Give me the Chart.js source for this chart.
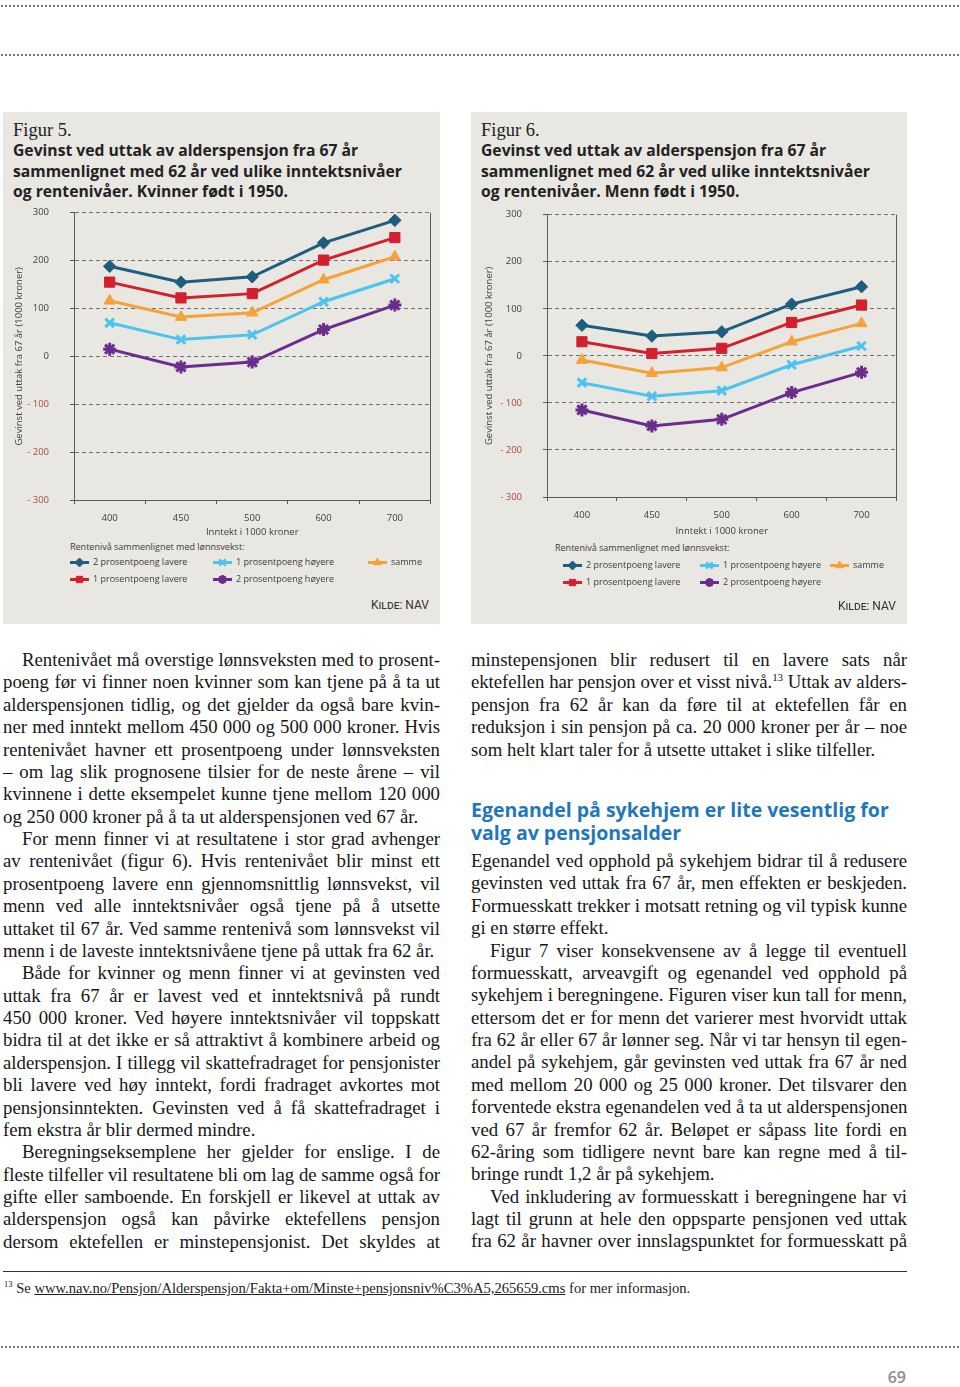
<!DOCTYPE html>
<html><head><meta charset="utf-8">
<script src="https://cdn.jsdelivr.net/npm/chart.js"></script>
<style>
body{margin:0;width:960px;height:1387px;position:relative;background:#fff;overflow:hidden;font-family:'Liberation Serif','Times New Roman',serif;color:#161616;}
.dots{position:absolute;left:0;width:960px;height:2px;background-image:radial-gradient(circle,#777 0.8px,transparent 1px);background-size:4px 2px;}
.panel{position:absolute;top:112px;height:512px;background:#e8e7e2;}
.fig{position:absolute;font-size:18.5px;line-height:20px;color:#222;}
.ftitle{position:absolute;font-family:'Open Sans',sans-serif;font-weight:700;font-size:15.7px;line-height:20.6px;color:#222;white-space:nowrap;}
canvas.ch{position:absolute;}
.leg{position:absolute;font-family:'Open Sans',sans-serif;font-size:9px;color:#3d3d3d;}
.legtitle{line-height:12px;white-space:nowrap;}
.legrow{position:absolute;white-space:nowrap;line-height:12px;display:flex;align-items:center;}
.legrow canvas{margin-right:4px;}
.kilde{position:absolute;font-family:'Roboto',sans-serif;font-variant:small-caps;font-size:12px;color:#333;white-space:nowrap;}
.col{position:absolute;font-size:18.8px;line-height:22.38px;}
.col div{text-align:justify;text-align-last:justify;white-space:nowrap;}
.col div.l{text-align-last:left;}
.col div.i{text-indent:19px;}
.head{position:absolute;left:471px;top:798px;font-family:'Open Sans',sans-serif;font-weight:700;font-size:19.5px;line-height:23px;color:#1f77bb;white-space:nowrap;}
sup{font-size:11px;line-height:0;vertical-align:7px;}
</style></head>
<body>
<div class="dots" style="top:5px"></div>
<div class="dots" style="top:54px"></div>

<div class="panel" style="left:3px;width:437px"></div>
<div class="panel" style="left:471px;width:436px"></div>

<div class="fig" style="left:13px;top:120px">Figur 5.</div>
<div class="ftitle" style="left:13px;top:140px">Gevinst ved uttak av alderspensjon fra 67 år<br>sammenlignet med 62 år ved ulike inntektsnivåer<br>og rentenivåer. Kvinner født i 1950.</div>
<div class="fig" style="left:481px;top:120px">Figur 6.</div>
<div class="ftitle" style="left:481px;top:140px">Gevinst ved uttak av alderspensjon fra 67 år<br>sammenlignet med 62 år ved ulike inntektsnivåer<br>og rentenivåer. Menn født i 1950.</div>

<canvas class="ch" id="c5" width="440" height="335" style="left:0px;top:205px;width:440px;height:335px"></canvas>
<canvas class="ch" id="c6" width="434" height="335" style="left:473px;top:205px;width:434px;height:335px"></canvas>

<div class="leg" id="leg5" style="left:70px;top:541px;width:370px;height:50px"></div>
<div class="leg" id="leg6" style="left:555px;top:542px;width:350px;height:50px"></div>

<div class="kilde" style="right:531px;top:598px">Kilde: NAV</div>
<div class="kilde" style="right:64px;top:599px">Kilde: NAV</div>

<div class="col" style="left:3px;top:649px;width:437px">
<div class="i">Rentenivået må overstige lønnsveksten med to prosent-</div>
<div>poeng før vi finner noen kvinner som kan tjene på å ta ut</div>
<div>alderspensjonen tidlig, og det gjelder da også bare kvin-</div>
<div>ner med inntekt mellom 450 000 og 500 000 kroner. Hvis</div>
<div>rentenivået havner ett prosentpoeng under lønnsveksten</div>
<div>– om lag slik prognosene tilsier for de neste årene – vil</div>
<div>kvinnene i dette eksempelet kunne tjene mellom 120 000</div>
<div class="l">og 250 000 kroner på å ta ut alderspensjonen ved 67 år.</div>
<div class="i">For menn finner vi at resultatene i stor grad avhenger</div>
<div>av rentenivået (figur 6). Hvis rentenivået blir minst ett</div>
<div>prosentpoeng lavere enn gjennomsnittlig lønnsvekst, vil</div>
<div>menn ved alle inntektsnivåer også tjene på å utsette</div>
<div>uttaket til 67 år. Ved samme rentenivå som lønnsvekst vil</div>
<div class="l">menn i de laveste inntektsnivåene tjene på uttak fra 62 år.</div>
<div class="i">Både for kvinner og menn finner vi at gevinsten ved</div>
<div>uttak fra 67 år er lavest ved et inntektsnivå på rundt</div>
<div>450 000 kroner. Ved høyere inntektsnivåer vil toppskatt</div>
<div>bidra til at det ikke er så attraktivt å kombinere arbeid og</div>
<div>alderspensjon. I tillegg vil skattefradraget for pensjonister</div>
<div>bli lavere ved høy inntekt, fordi fradraget avkortes mot</div>
<div>pensjonsinntekten. Gevinsten ved å få skattefradraget i</div>
<div class="l">fem ekstra år blir dermed mindre.</div>
<div class="i">Beregningseksemplene her gjelder for enslige. I de</div>
<div>fleste tilfeller vil resultatene bli om lag de samme også for</div>
<div>gifte eller samboende. En forskjell er likevel at uttak av</div>
<div>alderspensjon også kan påvirke ektefellens pensjon</div>
<div>dersom ektefellen er minstepensjonist. Det skyldes at</div>
</div>

<div class="col" style="left:471px;top:649px;width:436px">
<div>minstepensjonen blir redusert til en lavere sats når</div>
<div>ektefellen har pensjon over et visst nivå.<sup>13</sup> Uttak av alders-</div>
<div>pensjon fra 62 år kan da føre til at ektefellen får en</div>
<div>reduksjon i sin pensjon på ca. 20 000 kroner per år – noe</div>
<div class="l">som helt klart taler for å utsette uttaket i slike tilfeller.</div>
</div>
<div class="head">Egenandel på sykehjem er lite vesentlig for<br>valg av pensjonsalder</div>
<div class="col" style="left:471px;top:850px;width:436px">
<div>Egenandel ved opphold på sykehjem bidrar til å redusere</div>
<div>gevinsten ved uttak fra 67 år, men effekten er beskjeden.</div>
<div>Formuesskatt trekker i motsatt retning og vil typisk kunne</div>
<div class="l">gi en større effekt.</div>
<div class="i">Figur 7 viser konsekvensene av å legge til eventuell</div>
<div>formuesskatt, arveavgift og egenandel ved opphold på</div>
<div>sykehjem i beregningene. Figuren viser kun tall for menn,</div>
<div>ettersom det er for menn det varierer mest hvorvidt uttak</div>
<div>fra 62 år eller 67 år lønner seg. Når vi tar hensyn til egen-</div>
<div>andel på sykehjem, går gevinsten ved uttak fra 67 år ned</div>
<div>med mellom 20 000 og 25 000 kroner. Det tilsvarer den</div>
<div>forventede ekstra egenandelen ved å ta ut alderspensjonen</div>
<div>ved 67 år fremfor 62 år. Beløpet er såpass lite fordi en</div>
<div>62-åring som tidligere nevnt bare kan regne med å til-</div>
<div class="l">bringe rundt 1,2 år på sykehjem.</div>
<div class="i">Ved inkludering av formuesskatt i beregningene har vi</div>
<div>lagt til grunn at hele den oppsparte pensjonen ved uttak</div>
<div>fra 62 år havner over innslagspunktet for formuesskatt på</div>
</div>

<div style="position:absolute;left:3px;top:1271px;width:904px;height:1px;background:#333"></div>
<div style="position:absolute;left:4px;top:1279px;font-size:14.6px;line-height:18px;white-space:nowrap;color:#222"><sup style="font-size:8.5px;vertical-align:6px">13</sup> Se <span style="text-decoration:underline">www.nav.no/Pensjon/Alderspensjon/Fakta+om/Minste+pensjonsniv%C3%A5,265659.cms</span> for mer informasjon.</div>
<div class="dots" style="top:1346px"></div>
<div style="position:absolute;right:54px;top:1367px;font-family:'Open Sans',sans-serif;font-weight:600;font-size:16px;line-height:20px;color:#8c8c8c">69</div>

<script>
const categories = ['400','450','500','600','700'];
const seriesNames = ['2 prosentpoeng lavere','1 prosentpoeng lavere','samme','1 prosentpoeng høyere','2 prosentpoeng høyere'];
const yMin = -300, yMax = 300, yStep = 100;

// Figur 5 – kvinner
const women2Lower  = [188, 155, 166, 237, 284];
const women1Lower  = [155, 122, 131, 201, 248];
const womenSame    = [116,  82,  91, 160, 208];
const women1Higher = [ 70,  35,  45, 114, 162];
const women2Higher = [ 15, -22, -12,  56, 107];

// Figur 6 – menn
const men2Lower  = [  65,   42,   51,  110, 147];
const men1Lower  = [  30,    5,   16,   71, 108];
const menSame    = [  -9,  -37,  -25,   30,  69];
const men1Higher = [ -57,  -86,  -74,  -19,  21];
const men2Higher = [-115, -149, -135,  -78, -35];

const colors = ['#1e5d7d','#d3202c','#f5a23a','#4cc4ef','#6a2d8e'];
const styles = ['rectRot','rect','triangle','crossRot','star'];
const radii  = [6.2, 7.2, 6.5, 6, 6.5];
const legendOrder = [0,3,2,1,4];

const FONT = "'Open Sans', sans-serif";
const TXT = '#3d3d3d', NEG = '#b0463b', AX = '#5a5a5a';

function makeDatasets(arrs){
  return arrs.map((d,i)=>({
    label: seriesNames[i], data: d,
    borderColor: colors[i], backgroundColor: colors[i],
    pointBackgroundColor: colors[i], pointBorderColor: colors[i],
    pointStyle: styles[i], pointRadius: radii[i], pointHoverRadius: radii[i],
    pointBorderWidth: (styles[i]==='crossRot'||styles[i]==='star') ? 3 : 1,
    borderWidth: 3, tension: 0, fill: false
  }));
}

const rightFrame = {
  id:'rightFrame',
  afterDraw(chart){
    const {ctx, chartArea:a} = chart;
    const x = Math.round(a.right) - 0.5;
    ctx.save(); ctx.strokeStyle = AX; ctx.lineWidth = 1;
    ctx.beginPath(); ctx.moveTo(x, a.top); ctx.lineTo(x, a.bottom); ctx.stroke();
    ctx.restore();
  }
};

function makeChart(id, arrs, g){
  return new Chart(document.getElementById(id), {
    type:'line',
    data:{ labels: categories, datasets: makeDatasets(arrs) },
    plugins:[rightFrame],
    options:{
      responsive:false, maintainAspectRatio:false, animation:false,
      layout:{ padding:{left:0,right:6,top:8,bottom:0} },
      plugins:{ legend:{display:false}, tooltip:{enabled:false} },
      scales:{
        x:{
          type:'category', offset:true,
          afterFit(s){ s.height = 40; },
          grid:{ display:true, drawOnChartArea:false, drawTicks:true, tickLength:4, color:AX, offset:true },
          border:{ display:true, color:AX, width:1 },
          ticks:{ color:TXT, font:{family:FONT, size:9.5}, padding:9, maxRotation:0 },
          title:{ display:true, text:'Inntekt i 1000 kroner', color:TXT, font:{family:FONT, size:9.5}, padding:{top:0,bottom:g.xTitlePad} }
        },
        y:{
          min:yMin, max:yMax,
          afterFit(s){ s.width = 74; },
          grid:{ color:'#707070', lineWidth:1, tickLength:4, tickColor:AX },
          border:{ display:true, color:AX, width:1, dash:[4,3] },
          ticks:{
            stepSize:yStep, padding:21, font:{family:FONT, size:9.5},
            color:(c)=> c.tick && c.tick.value < 0 ? NEG : TXT,
            callback:(v)=> v < 0 ? '- ' + Math.abs(v) : String(v)
          },
          title:{ display:true, text:'Gevinst ved uttak fra 67 år (1000 kroner)', color:TXT, font:{family:FONT, size:9.5}, padding:{top:g.yTitlePad,bottom:0} }
        }
      }
    }
  });
}

// place the chart so that its plot area lands on the wanted page box
function placeChart(chart, box){
  const cv = chart.canvas;
  for (let k=0; k<3; k++){
    const a = chart.chartArea;
    const dw = (box.right-box.left) - (a.right-a.left);
    const dh = (box.bottom-box.top) - (a.bottom-a.top);
    if (Math.abs(dw) < 0.5 && Math.abs(dh) < 0.5) break;
    chart.resize(Math.round(chart.width + dw), Math.round(chart.height + dh));
  }
  const a = chart.chartArea;
  cv.style.left = (box.left - a.left) + 'px';
  cv.style.top = (box.top - a.top) + 'px';
}

const c5 = makeChart('c5', [women2Lower, women1Lower, womenSame, women1Higher, women2Higher], {yTitlePad:14, xTitlePad:2});
const c6 = makeChart('c6', [men2Lower, men1Lower, menSame, men1Higher, men2Higher], {yTitlePad:11, xTitlePad:0});
placeChart(c5, {left:74, top:213, right:430, bottom:500});
placeChart(c6, {left:547, top:215, right:896, bottom:497});

function drawMarker(cv, ds){
  const ctx = cv.getContext('2d'), w = cv.width, h = cv.height;
  ctx.strokeStyle = ds.borderColor; ctx.lineWidth = 3;
  ctx.beginPath(); ctx.moveTo(0, h/2); ctx.lineTo(w, h/2); ctx.stroke();
  ctx.fillStyle = ds.backgroundColor; ctx.strokeStyle = ds.borderColor;
  const bw = (ds.pointStyle==='crossRot'||ds.pointStyle==='star') ? 2.5 : 1;
  ctx.lineWidth = bw;
  if (Chart.helpers && Chart.helpers.drawPoint) {
    Chart.helpers.drawPoint(ctx, {pointStyle: ds.pointStyle, radius: 4.5, rotation: 0, borderWidth: bw}, w/2, h/2);
  }
}

function buildLegend(id, chart, cols, rowTops){
  const el = document.getElementById(id);
  const t = document.createElement('div'); t.className='legtitle';
  t.textContent = 'Rentenivå sammenlignet med lønnsvekst:'; el.appendChild(t);
  legendOrder.forEach((di, k)=>{
    const ds = chart.data.datasets[di];
    const row = document.createElement('div'); row.className='legrow';
    row.style.left = cols[k%3] + 'px'; row.style.top = rowTops[Math.floor(k/3)] + 'px';
    const cv = document.createElement('canvas'); cv.width = 19; cv.height = 11;
    drawMarker(cv, ds); row.appendChild(cv);
    const s = document.createElement('span'); s.textContent = ds.label; row.appendChild(s);
    el.appendChild(row);
  });
}
buildLegend('leg5', c5, [0,143,298], [15,32]);
buildLegend('leg6', c6, [8,145,275], [17,34]);

// squeeze body lines that are wider than their column
document.querySelectorAll('.col div').forEach(d=>{
  const cls = d.style.textAlignLast;
  d.style.textAlign = 'left'; d.style.textAlignLast = 'left';
  const over = d.scrollWidth - d.clientWidth;
  if (over > 0) {
    const n = d.textContent.length;
    d.style.letterSpacing = (-(over + 1) / n) + 'px';
  }
  d.style.textAlign = ''; d.style.textAlignLast = cls;
});
</script>
</body></html>
